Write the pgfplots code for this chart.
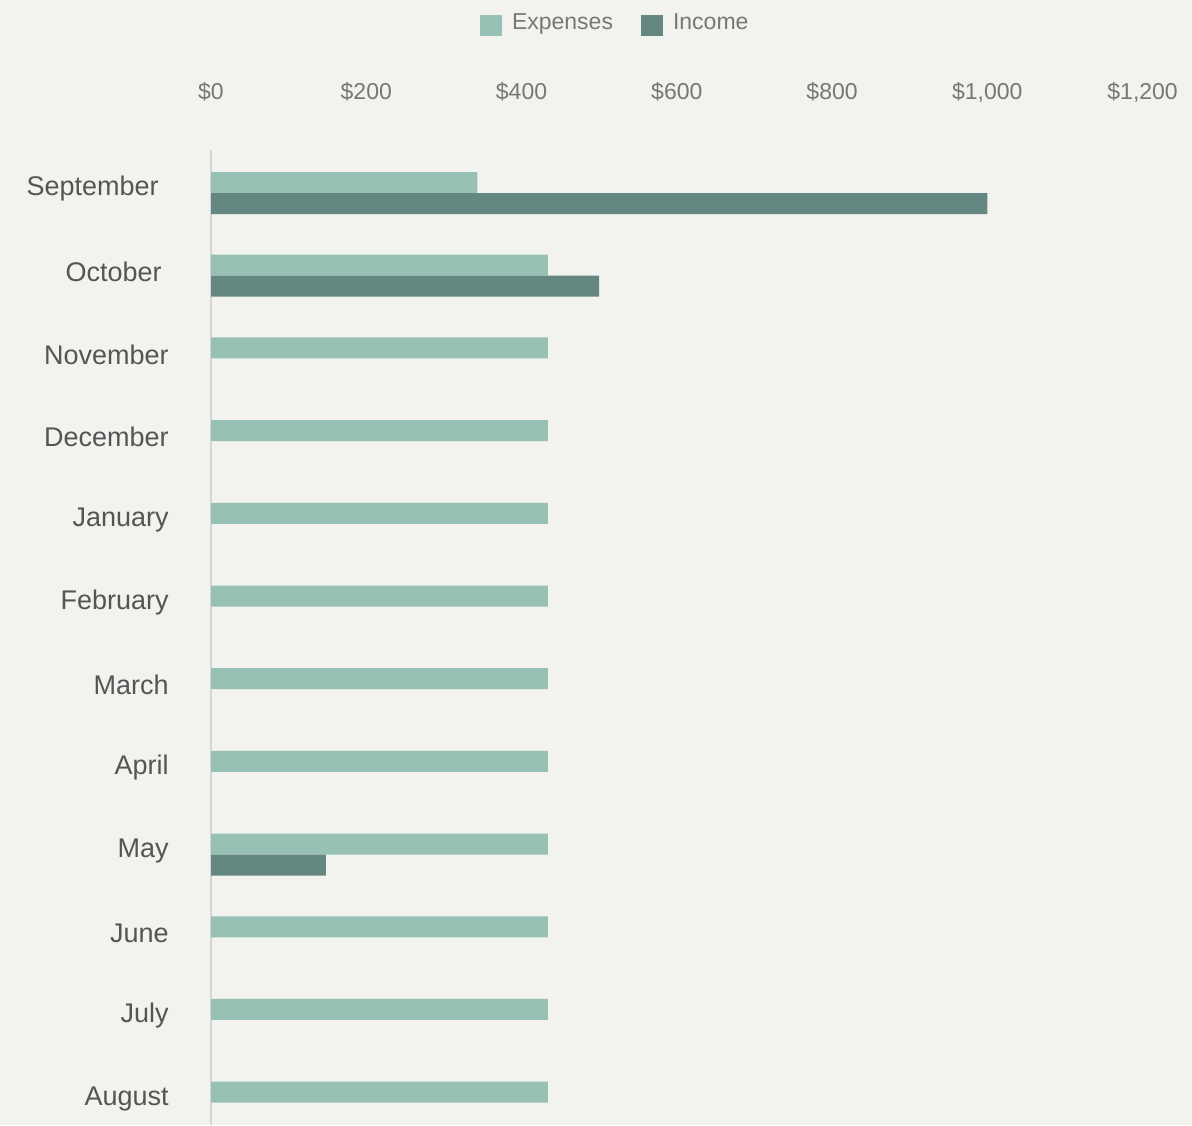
\documentclass[border=0pt]{standalone}
\usepackage{pgfplots}
\pgfplotsset{compat=1.18}
\usepackage{fontspec}
\setmainfont{Liberation Sans}
\definecolor{bg}{HTML}{F2F2EE}
\definecolor{expc}{HTML}{97C1B4}
\definecolor{incc}{HTML}{658782}
\definecolor{txt}{HTML}{555555}
\definecolor{txtl}{HTML}{777777}
\definecolor{axl}{HTML}{D5D5D2}
\begin{document}
\begin{tikzpicture}
\fill[bg] (0,0) rectangle (596pt,562.5pt);
\begin{axis}[
  at={(105.5pt,0pt)}, anchor=south west,
  width=465.8pt, height=487.5pt, scale only axis,
  xmin=0, xmax=1200, ymin=-0.52, ymax=11.27, y dir=reverse,
  xbar, bar width=10.5pt,
  axis x line*=top, x axis line style={draw=none},
  axis y line*=left, y axis line style={draw=axl, line width=0.8pt, -},
  major tick length=0pt,
  xtick={0,200,400,600,800,1000,1200},
  xticklabels={{\$0},{\$200},{\$400},{\$600},{\$800},{\$1,000},{\$1,200}},
  xticklabel style={font=\fontsize{11.5}{13}\selectfont, text=txtl, anchor=center, yshift=29pt},
  ytick={0,1,2,3,4,5,6,7,8,9,10,11},
  yticklabels={{September\hspace*{5pt}},{October\hspace*{3.5pt}},November,December,January,February,March,April,May,June,July,August},
  yticklabel style={font=\fontsize{13.5}{15}\selectfont, text=txt, anchor=east, inner sep=0pt, xshift=-21pt, yshift=2pt},
  legend style={at={(0.435,1.13)}, anchor=center, legend columns=2, draw=none, fill=none,
    font=\fontsize{11.5}{13}\selectfont, text=txtl,
    /tikz/every odd column/.append style={column sep=3pt},
    /tikz/every even column/.append style={column sep=12pt}},
  legend image code/.code={\fill[#1] (0pt,-6.5pt) rectangle (11pt,4pt);},
]
\addplot[fill=expc, draw=none, bar shift=5.25pt] coordinates {
 (343,0) (434,1) (434,2) (434,3) (434,4) (434,5) (434,6) (434,7) (434,8) (434,9) (434,10) (434,11)};
\addlegendentry{Expenses}
\addplot[fill=incc, draw=none, bar shift=-5.25pt] coordinates {
 (1000,0) (500,1) (148,8)};
\addlegendentry{Income}
\end{axis}
\pgfresetboundingbox
\useasboundingbox (0,0) rectangle (596pt,562.5pt);
\end{tikzpicture}
\end{document}
